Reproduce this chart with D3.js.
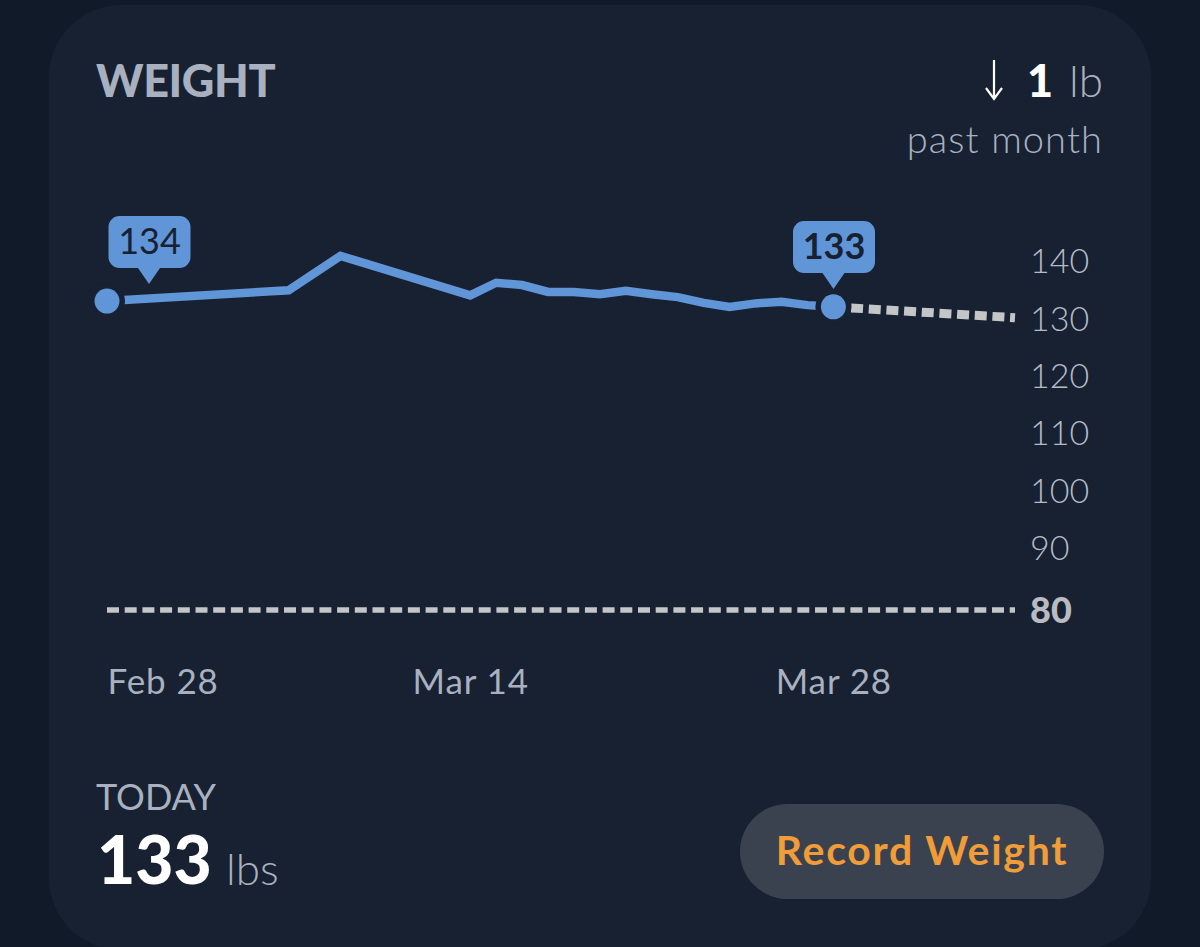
<!DOCTYPE html>
<html>
<head>
<meta charset="utf-8">
<title>Weight</title>
<script src="https://cdn.jsdelivr.net/npm/d3@7"></script>
<style>
	html, body { margin: 0; padding: 0; background: #111a29; }
	svg { display: block; }
	text { font-family: Lato, "Open Sans", sans-serif; }
</style>
</head>
<body>
<svg id="weight-chart" width="1200" height="947"></svg>
<script>
// values
var dates = ["2021-02-28", "2021-03-07", "2021-03-09", "2021-03-14", "2021-03-15", "2021-03-16", "2021-03-17",
	"2021-03-18", "2021-03-19", "2021-03-20", "2021-03-21", "2021-03-22", "2021-03-23", "2021-03-24",
	"2021-03-25", "2021-03-26", "2021-03-27", "2021-03-28"];
var weights = [133.0, 134.9, 140.9, 134.0, 136.2, 135.8, 134.6,
	134.6, 134.2, 134.8, 134.2, 133.7, 132.7, 132.0,
	132.6, 132.9, 132.3, 132.0];
var trendDates = ["2021-03-28", "2021-04-04"];
var trendWeights = [132.0, 130.1];
var yTicks = [140, 130, 120, 110, 100, 90, 80];
var xTicks = ["2021-02-28", "2021-03-14", "2021-03-28"];
var goalWeight = 80;
var firstLabel = "134";
var lastLabel = "133";

var parseDate = d3.timeParse("%Y-%m-%d");
var svg = d3.select("svg#weight-chart");

var colors = {page: "#111a29", card: "#172131", blue: "#6095d8", dash: "#c4c5c6", grey: "#a9b1c0", dark: "#172131"};

// card
svg.append("rect")
	.attr("x", 49).attr("y", 5)
	.attr("width", 1102).attr("height", 945)
	.attr("rx", 72)
	.attr("fill", colors.card);

var x = d3.scaleTime()
	.domain([parseDate(dates[0]), parseDate(trendDates[1])])
	.range([107, 1015]);

// the bottom step to 80 is a bit taller than the others, the axis is broken there
var y = d3.scaleLinear()
	.domain([80, 90, 140])
	.range([610, 547.5, 261]);

var line = d3.line()
	.x(function (d) { return x(d.date); })
	.y(function (d) { return y(d.value); });

var weightData = dates.map(function (d, i) { return {date: parseDate(d), value: weights[i]}; });
var trendData = trendDates.map(function (d, i) { return {date: parseDate(d), value: trendWeights[i]}; });

// goal line
svg.append("line")
	.attr("x1", x.range()[0]).attr("x2", x.range()[1])
	.attr("y1", y(goalWeight)).attr("y2", y(goalWeight))
	.attr("stroke", colors.dash)
	.attr("stroke-width", 5.5)
	.attr("stroke-dasharray", "12 5.7");

// trend
svg.append("path")
	.datum(trendData)
	.attr("d", line)
	.attr("fill", "none")
	.attr("stroke", colors.dash)
	.attr("stroke-width", 9)
	.attr("stroke-dasharray", "12 5.7");

// weight line
svg.append("path")
	.datum(weightData)
	.attr("d", line)
	.attr("fill", "none")
	.attr("stroke", colors.blue)
	.attr("stroke-width", 8.5)
	.attr("stroke-linejoin", "miter");

// end points, with a gap cut out of the line around them
var ends = [weightData[0], weightData[weightData.length - 1]];
svg.selectAll(".end-gap")
	.data(ends)
	.enter().append("circle")
	.attr("class", "end-gap")
	.attr("cx", function (d) { return x(d.date); })
	.attr("cy", function (d) { return y(d.value); })
	.attr("r", 18)
	.attr("fill", colors.card);
svg.selectAll(".end-dot")
	.data(ends)
	.enter().append("circle")
	.attr("class", "end-dot")
	.attr("cx", function (d) { return x(d.date); })
	.attr("cy", function (d) { return y(d.value); })
	.attr("r", 12.5)
	.attr("fill", colors.blue);

// speech bubble above a point
function bubble(cx, top, tipX, label, weight) {
	var w = 82, h = 52, r = 11;
	var left = cx - w / 2;
	var path = d3.path();
	path.moveTo(left + r, top);
	path.arcTo(left + w, top, left + w, top + h, r);
	path.arcTo(left + w, top + h, left, top + h, r);
	path.lineTo(tipX + 11, top + h);
	path.lineTo(tipX, top + h + 16);
	path.lineTo(tipX - 11, top + h);
	path.arcTo(left, top + h, left, top, r);
	path.arcTo(left, top, left + w, top, r);
	path.closePath();
	svg.append("path").attr("d", path.toString()).attr("fill", colors.blue);
	svg.append("text")
		.attr("x", cx).attr("y", top + 38)
		.attr("text-anchor", "middle")
		.attr("font-size", 36)
		.attr("font-family", "Lato")
		.attr("font-weight", weight)
		.attr("fill", colors.dark)
		.text(label);
}
bubble(149.5, 216, 149, firstLabel, 400);
bubble(834, 221, 833.5, lastLabel, 700);

// y axis
var yAxis = d3.axisRight(y)
	.tickValues(yTicks)
	.tickSize(0)
	.tickPadding(0);
var gy = svg.append("g")
	.attr("transform", "translate(1030,1)")
	.call(yAxis);
gy.select(".domain").remove();
gy.selectAll("text")
	.attr("font-family", "Lato")
	.attr("font-size", function (d) { return d === goalWeight ? 36 : 34; })
	.attr("font-weight", function (d) { return d === goalWeight ? 900 : 300; })
	.attr("fill", function (d) { return d === goalWeight ? "#b9bbc0" : "#b4bbc8"; });

// x axis
var xAxis = d3.axisBottom(x)
	.tickValues(xTicks.map(parseDate))
	.tickFormat(d3.timeFormat("%b %-d"))
	.tickSize(0)
	.tickPadding(0);
var gx = svg.append("g")
	.attr("transform", "translate(0,669)")
	.call(xAxis);
gx.select(".domain").remove();
gx.selectAll("text")
	.attr("font-family", "Lato")
	.attr("font-size", 35)
	.attr("font-weight", 400)
	.attr("letter-spacing", 0.9)
	.attr("fill", colors.grey)
	.attr("text-anchor", function (d, i) { return i === 0 ? "start" : "middle"; });

// texts around the chart
function label(text, tx, ty, size, weight, fill, anchor, spacing) {
	return svg.append("text")
		.attr("x", tx).attr("y", ty)
		.attr("font-size", size)
		.attr("font-weight", weight)
		.attr("fill", fill)
		.attr("text-anchor", anchor || "start")
		.attr("letter-spacing", spacing || 0)
		.text(text);
}
label("WEIGHT", 96, 97, 45, 900, colors.grey, "start", -0.4);
label("1", 1053, 97, 45, 900, "#ffffff", "end");
label("lb", 1103, 97, 44, 300, colors.grey, "end");
label("past month", 1103, 153, 38, 300, colors.grey, "end", 1.1);
label("TODAY", 96, 810, 36, 400, colors.grey);
label("133", 97, 884, 66, 900, "#ffffff");
label("lbs", 226, 885, 44, 300, colors.grey);

// down arrow
svg.append("path")
	.attr("d", "M994,60V98M986,88L994,99L1002,88")
	.attr("fill", "none")
	.attr("stroke", "#ffffff")
	.attr("stroke-width", 2.2);

// button
svg.append("rect")
	.attr("x", 740).attr("y", 804)
	.attr("width", 364).attr("height", 95)
	.attr("rx", 47.5)
	.attr("fill", "#3a424f");
label("Record Weight", 922, 865, 41, 700, "#f09c38", "middle", 1.7);
</script>
</body>
</html>
